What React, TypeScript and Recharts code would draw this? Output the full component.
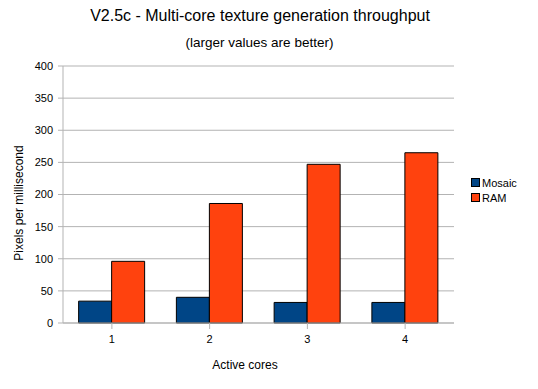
import { BarChart, Bar, XAxis, YAxis, CartesianGrid, Legend } from "recharts"

const cores = ["1", "2", "3", "4"]
const mosaic = [34, 40, 32, 32]
const ram = [96, 186, 247, 265]
const yTicks = [0, 50, 100, 150, 200, 250, 300, 350, 400]

const data = cores.map((c, i) => ({ cores: c, Mosaic: mosaic[i], RAM: ram[i] }))

const font = "'Liberation Sans', Arial, sans-serif"
const gridColor = "#b3b3b3"

function LegendBox({ payload }: any) {
  return (
    <div style={{ fontFamily: font, fontSize: 11, color: "#000" }}>
      {(payload || []).map((p: any) => (
        <div key={p.value} style={{ display: "flex", alignItems: "center", height: 15 }}>
          <span
            style={{
              display: "inline-block",
              width: 7,
              height: 7,
              background: p.color,
              border: "1px solid #000",
              marginRight: 2,
            }}
          />
          {p.value}
        </div>
      ))}
    </div>
  )
}

export default function App() {
  return (
    <div style={{ position: "absolute", left: 0, top: 0, width: 538, height: 389, background: "#fff", fontFamily: font }}>
      <div style={{ position: "absolute", left: 0, top: 6, width: 520, textAlign: "center", fontSize: 16, lineHeight: "20px" }}>
        V2.5c - Multi-core texture generation throughput
      </div>
      <div style={{ position: "absolute", left: 0, top: 35, width: 519, textAlign: "center", fontSize: 13.5, lineHeight: "16px" }}>
        (larger values are better)
      </div>
      <div
        style={{
          position: "absolute",
          left: 18.5,
          top: 203,
          fontSize: 12,
          whiteSpace: "nowrap",
          transform: "translate(-50%, -50%) rotate(-90deg)",
        }}
      >
        Pixels per millisecond
      </div>
      <div style={{ position: "absolute", left: 195, top: 358, width: 100, textAlign: "center", fontSize: 12 }}>
        Active cores
      </div>
      <BarChart
        width={538}
        height={389}
        data={data}
        margin={{ top: 66, right: 84, bottom: 36, left: 30 }}
        barCategoryGap="16%"
        barGap={0}
      >
        <CartesianGrid vertical={false} stroke={gridColor} strokeWidth={1} />
        <XAxis
          dataKey="cores"
          height={30}
          stroke={gridColor}
          tickSize={6}
          tickMargin={6}
          tick={{ fill: "#000", fontSize: 11, fontFamily: font }}
        />
        <YAxis
          width={33}
          domain={[0, 400]}
          ticks={yTicks}
          stroke={gridColor}
          tickSize={5}
          tickMargin={5}
          tick={{ fill: "#000", fontSize: 11, fontFamily: font }}
        />
        <YAxis
          yAxisId="right"
          orientation="right"
          width={0}
          domain={[0, 400]}
          ticks={yTicks}
          tick={false}
          tickLine={false}
          stroke={gridColor}
        />
        <Legend
          layout="vertical"
          align="center"
          verticalAlign="middle"
          content={<LegendBox />}
          wrapperStyle={{ left: 471, top: 175, width: 67 }}
        />
        <Bar dataKey="Mosaic" fill="#004586" stroke="#000" strokeWidth={1} isAnimationActive={false} />
        <Bar dataKey="RAM" fill="#ff420e" stroke="#000" strokeWidth={1} isAnimationActive={false} />
      </BarChart>
    </div>
  )
}
